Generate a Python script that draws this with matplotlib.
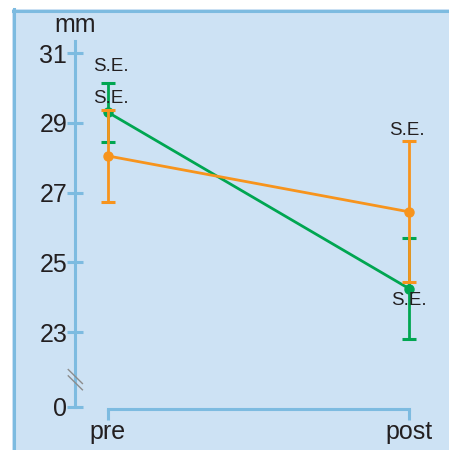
import matplotlib.pyplot as plt
from matplotlib.patches import Rectangle

plt.rcParams['font.family'] = ['Liberation Sans', 'DejaVu Sans']

# data
groups = ['pre', 'post']
green_mean = [29.3, 24.25]
green_se = [0.85, 1.45]
orange_mean = [28.05, 26.45]
orange_se = [1.32, 2.02]
yticks = [23, 25, 27, 29, 31]
zero_pos = 20.86  # where the "0" sits below the axis break

green = '#00a651'
orange = '#f7941d'
axblue = '#7dbbe0'
panel = '#cde2f4'
txt = '#231f20'

fig = plt.figure(figsize=(4.49, 4.5), dpi=100)
fig.patch.set_facecolor('white')

ax = fig.add_axes([0, 0, 1, 1])
ax.patch.set_alpha(0)

# panel background and frame
tf = fig.transFigure
ax.add_patch(Rectangle((12 / 449, 0), 1, 441 / 450, transform=tf,
                       facecolor=panel, edgecolor='none', zorder=0, clip_on=False))
ax.plot([12.5 / 449, 1], [439.5 / 450, 439.5 / 450], transform=tf,
        color=axblue, lw=2.2, clip_on=False, zorder=1)
ax.plot([13.5 / 449, 13.5 / 449], [0, 441 / 450], transform=tf,
        color=axblue, lw=2.2, clip_on=False, zorder=1)

x = [0, 1]
ax.set_xlim(-0.3588, 1.1329)
ax.set_ylim(19.625, 32.519)

ax.errorbar(x, green_mean, yerr=green_se, color=green, lw=2, marker='o', ms=6.5,
            capsize=5, capthick=2.2, zorder=3)
ax.errorbar(x, orange_mean, yerr=orange_se, color=orange, lw=2, marker='o', ms=6.5,
            capsize=5, capthick=2.2, zorder=4)

# S.E. labels
for xx, yy in [(0.01, 30.6), (0.01, 29.71), (0.993, 28.77), (1.0, 23.92)]:
    ax.text(xx, yy, 'S.E.', fontsize=13.5, color=txt, ha='center', va='center', zorder=6)

# axes
for s in ['top', 'right']:
    ax.spines[s].set_visible(False)
ax.spines['left'].set_position(('data', -0.1096))
ax.spines['left'].set_bounds(zero_pos, 31.35)
ax.spines['bottom'].set_position(('data', 20.8))
ax.spines['bottom'].set_bounds(0, 1)
for s in ['left', 'bottom']:
    ax.spines[s].set_color(axblue)
    ax.spines[s].set_linewidth(2.2)
    ax.spines[s].set_zorder(2)

ax.set_yticks([zero_pos] + yticks)
ax.set_yticklabels(['0'] + [str(v) for v in yticks])
ax.set_xticks(x)
ax.set_xticklabels(groups)
ax.tick_params(axis='y', direction='inout', length=11, width=2.2, color=axblue,
               labelsize=18, labelcolor=txt, pad=0)
ax.tick_params(axis='x', direction='out', length=8, width=2.2, color=axblue,
               labelsize=18, labelcolor=txt, pad=0)

ax.text(-0.1096, 31.8, 'mm', fontsize=18, color=txt, ha='center', va='center')

# axis break marks
for dy in [0, 0.18]:
    ax.plot([-0.132, -0.085], [21.75 + dy, 21.35 + dy], color='#8c8c8c', lw=1, zorder=5)

fig.savefig('out.png', dpi=100)
